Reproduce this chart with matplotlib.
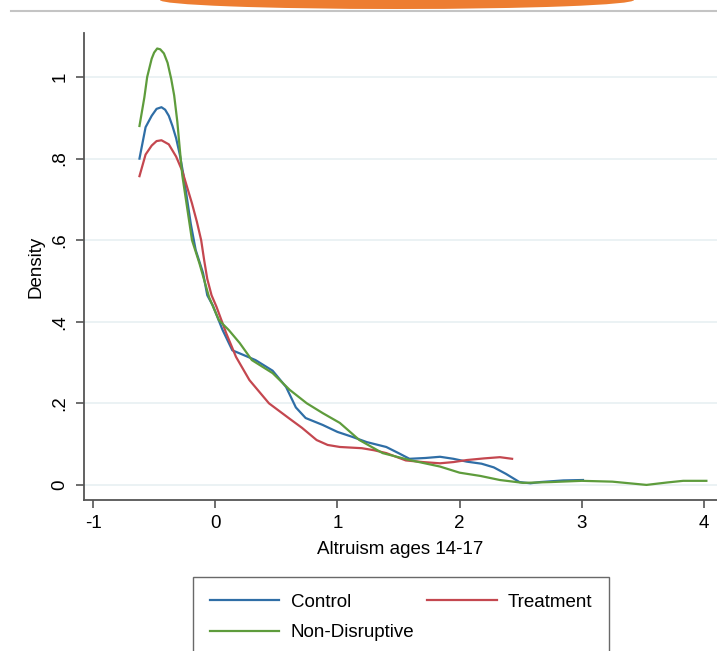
import matplotlib.pyplot as plt
from matplotlib.patches import Ellipse
from matplotlib.lines import Line2D

plt.rcParams['font.family'] = ['Liberation Sans', 'DejaVu Sans']

# kernel density curves
control_x = [-0.62, -0.57, -0.52, -0.48, -0.44, -0.41, -0.38, -0.35, -0.32, -0.29, -0.26,
             -0.23, -0.20, -0.16, -0.10, -0.065, -0.02, 0.06, 0.14, 0.22, 0.33, 0.47, 0.58,
             0.66, 0.74, 0.88, 1.00, 1.12, 1.24, 1.40, 1.50, 1.59, 1.72, 1.84, 1.95, 2.06,
             2.18, 2.28, 2.38, 2.49, 2.58, 2.66, 2.85, 3.01]
control_y = [0.80, 0.877, 0.905, 0.922, 0.926, 0.92, 0.905, 0.88, 0.85, 0.81, 0.76,
             0.70, 0.64, 0.576, 0.52, 0.465, 0.44, 0.38, 0.33, 0.32, 0.306, 0.28, 0.24,
             0.19, 0.164, 0.147, 0.13, 0.118, 0.105, 0.093, 0.078, 0.064, 0.066, 0.069, 0.064, 0.057,
             0.052, 0.043, 0.027, 0.007, 0.004, 0.007, 0.011, 0.012]

treat_x = [-0.62, -0.57, -0.52, -0.48, -0.44, -0.38, -0.32, -0.27, -0.23, -0.19, -0.15,
           -0.115, -0.09, -0.065, -0.03, 0.01, 0.09, 0.17, 0.28, 0.44, 0.61, 0.71, 0.83,
           0.92, 1.02, 1.20, 1.30, 1.40, 1.56, 1.70, 1.84, 1.95, 2.06, 2.20, 2.33, 2.43]
treat_y = [0.757, 0.81, 0.832, 0.843, 0.845, 0.835, 0.805, 0.77, 0.73, 0.69, 0.645,
           0.60, 0.55, 0.505, 0.465, 0.437, 0.372, 0.314, 0.257, 0.20, 0.162, 0.14, 0.11,
           0.098, 0.093, 0.09, 0.085, 0.078, 0.06, 0.056, 0.053, 0.056, 0.061, 0.065, 0.068, 0.064]

nondis_x = [-0.62, -0.58, -0.557, -0.52, -0.50, -0.475, -0.45, -0.42, -0.39, -0.36, -0.336,
            -0.31, -0.295, -0.27, -0.24, -0.19, -0.13, -0.05, 0.03, 0.11, 0.20, 0.30, 0.47,
            0.61, 0.75, 0.88, 1.02, 1.18, 1.37, 1.59, 1.84, 2.00, 2.17, 2.33, 2.52, 2.75,
            3.00, 3.25, 3.53, 3.70, 3.83, 4.02]
nondis_y = [0.88, 0.95, 1.0, 1.045, 1.06, 1.07, 1.068, 1.058, 1.035, 0.995, 0.955,
            0.89, 0.84, 0.76, 0.70, 0.60, 0.544, 0.46, 0.404, 0.38, 0.348, 0.306, 0.274,
            0.233, 0.20, 0.176, 0.152, 0.11, 0.078, 0.061, 0.045, 0.03, 0.022, 0.012, 0.005, 0.007,
            0.01, 0.008, 0.0, 0.006, 0.01, 0.01]

y_ticks = [0, 0.2, 0.4, 0.6, 0.8, 1.0]
y_labels = ['0', '.2', '.4', '.6', '.8', '1']
x_ticks = [-1, 0, 1, 2, 3, 4]

c_blue = '#2f6ea6'
c_red = '#c4474f'
c_green = '#5e9c3c'

fig = plt.figure(figsize=(7.17, 6.51), dpi=100)

# slide decoration at the top
fig.patches.append(Ellipse((397 / 717, 1.0), 474 / 717, 18 / 651, transform=fig.transFigure,
                           facecolor='#ed7d31', edgecolor='none'))
fig.add_artist(Line2D([11 / 717, 1.0], [1 - 11 / 651, 1 - 11 / 651], transform=fig.transFigure,
                      color='#c4c4c4', lw=1.5))

ax = fig.add_axes([84 / 717, 151 / 651, 633 / 717, 467 / 651])
l1, = ax.plot(control_x, control_y, color=c_blue, lw=1.6)
l2, = ax.plot(treat_x, treat_y, color=c_red, lw=1.6)
l3, = ax.plot(nondis_x, nondis_y, color=c_green, lw=1.6)

ax.set_xlim(-1.074, 4.107)
ax.set_ylim(-0.037, 1.108)
for t in y_ticks:
    ax.axhline(t, color='#e8f0f2', lw=1.2, zorder=0)
ax.set_yticks(y_ticks)
ax.set_yticklabels(y_labels, rotation=90, va='center')
ax.set_xticks(x_ticks)
ax.set_xticklabels([str(v) for v in x_ticks])
ax.tick_params(labelsize=13.5, length=6, width=1.2, color='#555555', pad=5)
for s in ['top', 'right']:
    ax.spines[s].set_visible(False)
for s in ['left', 'bottom']:
    ax.spines[s].set_color('#555555')
    ax.spines[s].set_linewidth(1.3)
ax.set_ylabel('Density', fontsize=13.5, labelpad=5)
ax.set_xlabel('Altruism ages 14-17', fontsize=13.5, labelpad=6)

# column-wise fill: Control / Non-Disruptive, then Treatment
leg = fig.legend([l1, l3, l2], ['Control', 'Non-Disruptive', 'Treatment'],
                 loc='upper left', bbox_to_anchor=(193 / 717, 1 - 577 / 651), ncol=2,
                 fontsize=13.5, frameon=True, fancybox=False, handlelength=3.7,
                 handletextpad=0.6, columnspacing=0.7, borderpad=0.9, labelspacing=0.7,
                 borderaxespad=0)
leg.get_frame().set_edgecolor('#444444')
leg.get_frame().set_linewidth(1.0)

fig.savefig('out.png', dpi=100)
